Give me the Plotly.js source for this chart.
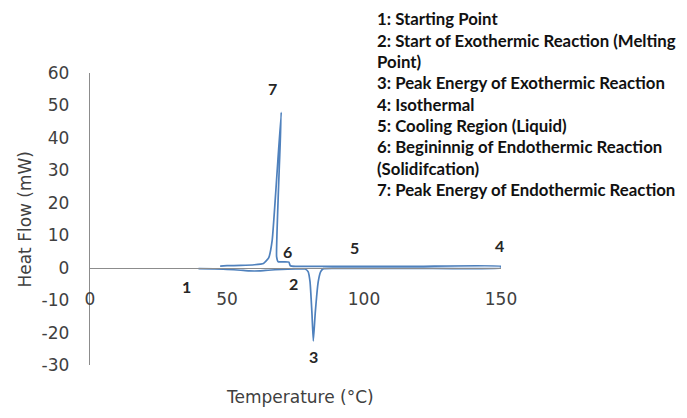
<!DOCTYPE html>
<html>
<head>
<meta charset="utf-8">
<script src="https://cdn.plot.ly/plotly-3.0.1.min.js"></script>
<style>html,body{margin:0;padding:0;background:#fff;}#chart{width:687px;height:418px;}</style>
</head>
<body>
<div id="chart"></div>
<script>
// Temperature (°C) and heat flow (mW), heating then isothermal then cooling
const temperature = [39.6, 45, 50, 55, 58, 62, 65, 70, 75, 78.5, 79.6, 80.3, 81.0, 81.5, 82.2, 83.3, 84.2, 85.2, 90, 100, 120, 150,
                     150, 120, 100, 85, 75, 73.1, 72.6, 71, 69.5, 68.7, 68.1, 69.8, 66.5, 65.2, 63.3, 60, 55, 50, 47.5];
const heatFlow    = [-0.3, -0.4, -0.5, -0.8, -1.0, -1.0, -0.8, -0.5, -0.4, -0.4, -1.2, -4.3, -14, -22.6, -14, -4.3, -1.2, -0.3, -0.2, -0.2, -0.2, -0.1,
                     0.4, 0.4, 0.4, 0.4, 0.4, 0.6, 1.7, 1.8, 1.8, 1.8, 3.4, 47.9, 8.5, 3.0, 1.3, 0.9, 0.7, 0.6, 0.5];

const xTicks = [0, 50, 100, 150];
const yTicks = [-30, -20, -10, 0, 10, 20, 30, 40, 50, 60];

const pointLabels = ["1", "2", "3", "4", "5", "6", "7"];
const pointX = [35.2, 74.3, 81.4, 149.3, 96.4, 72.1, 66.5];
const pointY = [-5.8, -5.0, -27.4, 6.7, 6.1, 4.9, 55.3];

const noteLines = [
  "1: Starting Point",
  "2: Start of Exothermic Reaction (Melting",
  "Point)",
  "3: Peak Energy of Exothermic Reaction",
  "4: Isothermal",
  "5: Cooling Region (Liquid)",
  "6: Begininnig of Endothermic Reaction",
  "(Solidifcation)",
  "7: Peak Energy of Endothermic Reaction"
];

const xTitle = "Temperature (°C)";
const yTitle = "Heat Flow (mW)";

const W = 687, H = 418;
const m = {l: 89.5, r: 186, t: 72.7, b: 53};
const plotH = H - m.t - m.b;
const plotW = W - m.l - m.r;
const py = px => (H - m.b - px) / plotH;
const pxX = px => (px - m.l) / plotW;

const annotations = [];
pointLabels.forEach((t, i) => annotations.push({
  text: '<b>' + t + '</b>', x: pointX[i], y: pointY[i], xref: 'x', yref: 'y', showarrow: false,
  font: {family: 'Lato', size: 16, color: '#262626'}
}));
noteLines.forEach((t, i) => annotations.push({
  text: '<b>' + t + '</b>', xref: 'paper', yref: 'paper', x: pxX(375), y: py(18.3 + i * 21.38),
  xanchor: 'left', yanchor: 'middle', showarrow: false,
  font: {family: 'Lato', size: 16.8, color: '#111'}
}));
annotations.push({text: xTitle, xref: 'paper', yref: 'paper', x: pxX(300), y: py(409),
  showarrow: false, font: {family: 'DejaVu Sans', size: 17, color: '#404040'}});
annotations.push({text: yTitle, xref: 'paper', yref: 'paper', x: pxX(24), y: 0.5, textangle: -90,
  xanchor: 'center', yanchor: 'middle',
  showarrow: false, font: {family: 'DejaVu Sans', size: 17, color: '#404040'}});

Plotly.newPlot('chart', [{
  x: temperature, y: heatFlow, type: 'scatter', mode: 'lines',
  line: {color: '#4f81bd', width: 1.7, shape: 'spline', smoothing: 0.4},
  hoverinfo: 'none'
}], {
  width: W, height: H, margin: m,
  paper_bgcolor: '#fff', plot_bgcolor: '#fff', showlegend: false,
  xaxis: {range: [0, 150], tickvals: xTicks, ticktext: xTicks.map(String),
    anchor: 'free', position: 1/3, showline: true, linecolor: '#8c8c8c', linewidth: 1.3,
    showgrid: false, zeroline: false, ticks: 'outside', ticklen: 16, tickcolor: 'rgba(0,0,0,0)',
    tickfont: {family: 'DejaVu Sans', size: 17, color: '#404040'}},
  yaxis: {range: [-30, 60], tickvals: yTicks, ticktext: yTicks.map(String),
    showline: true, linecolor: '#8c8c8c', linewidth: 1.3, showgrid: false, zeroline: false,
    ticks: 'outside', ticklen: 16, tickcolor: 'rgba(0,0,0,0)',
    tickfont: {family: 'DejaVu Sans', size: 17, color: '#404040'}},
  annotations: annotations
}, {staticPlot: true});
</script>
</body>
</html>
